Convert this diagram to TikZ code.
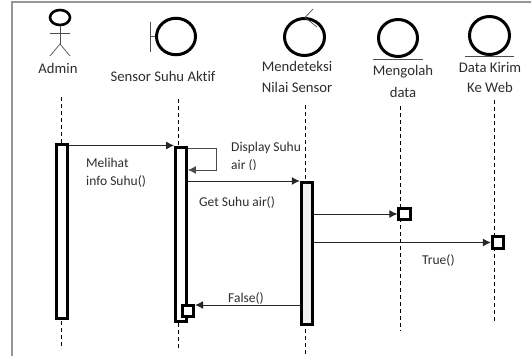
\documentclass[tikz,border=0pt]{standalone}
\usepackage{fontspec}
\setmainfont{Carlito}[Ligatures=CommonOff]
\usetikzlibrary{arrows.meta, shapes.geometric}
\definecolor{framegray}{RGB}{150,150,150}
\definecolor{textgray}{RGB}{45,45,45}
\tikzset{
    label/.style={font=\fontsize{14.7}{17}\selectfont, text=textgray, inner sep=0pt},
    labelleft/.style={label, anchor=west, font=\fontsize{13.5}{16}\selectfont},
    symbol/.style={draw=black, line width=3pt, ellipse, inner sep=0pt},
    stroke/.style={draw=black!70, line width=0.7pt},
    lifeline/.style={draw=black, line width=0.9pt, dash pattern=on 4pt off 3pt},
    activation/.style={draw=black, line width=2.8pt, fill=white, minimum width=11pt, inner sep=0pt},
    endbox/.style={draw=black, line width=2.8pt, fill=white, minimum size=11.5pt, inner sep=0pt},
    message/.style={draw=black!85, line width=1pt, -{Latex[length=8pt,width=8pt]}}
}

\begin{document}
\begin{tikzpicture}[x=1pt, y=-1pt]
    \useasboundingbox (0,0) rectangle (531,356);
    \draw[framegray, line width=1.2pt] (12,356) -- (12,2) -- (531,2);

    % actor
    \node[symbol, minimum width=20pt, minimum height=15pt, line width=2.6pt] (adminHead) at (60,17.5) {};
    \coordinate (adminHip) at (60,44);
    \coordinate (adminArmL) at (50,33);
    \coordinate (adminArmR) at (70,33);
    \coordinate (adminFootL) at (50,56);
    \coordinate (adminFootR) at (70,56);
    \draw[stroke] (adminHead) -- (adminHip);
    \draw[stroke] (adminArmL) -- (adminArmR);
    \draw[stroke] (adminFootL) -- (adminHip) -- (adminFootR);
    \node[label] (adminLabel) at (58,68) {Admin};

    % boundary
    \node[symbol, minimum width=39pt, minimum height=36.5pt] (sensor) at (176,36.5) {};
    \coordinate (sensorStem) at (150,36.5);
    \coordinate (sensorTop) at (150,22);
    \coordinate (sensorBottom) at (150,52);
    \draw[stroke] (sensorTop) -- (sensorBottom);
    \draw[stroke] (sensorStem) -- (sensor);
    \node[label] (sensorLabel) at (163,76) {Sensor Suhu Aktif};

    % control
    \node[symbol, minimum width=40pt, minimum height=37pt] (deteksi) at (304.5,37) {};
    \coordinate (deteksiTip) at (305,17.5);
    \coordinate (deteksiUp) at (313,9);
    \coordinate (deteksiDown) at (317,27);
    \draw[stroke] (deteksiUp) -- (deteksiTip) -- (deteksiDown);
    \node[label] (deteksiLabelA) at (297,66) {Mendeteksi};
    \node[label] (deteksiLabelB) at (297,87) {Nilai Sensor};

    % entity
    \node[symbol, minimum width=39pt, minimum height=37pt] (olah) at (398,38) {};
    \coordinate (olahBaseL) at (373,59);
    \coordinate (olahBaseR) at (423,59);
    \draw[stroke] (olahBaseL) -- (olahBaseR);
    \node[label] (olahLabelA) at (403,72) {Mengolah};
    \node[label] (olahLabelB) at (403,92) {data};

    \node[symbol, minimum width=40pt, minimum height=38pt] (kirim) at (489.5,35.5) {};
    \coordinate (kirimBaseL) at (465,56);
    \coordinate (kirimBaseR) at (514,56);
    \draw[stroke] (kirimBaseL) -- (kirimBaseR);
    \node[label] (kirimLabelA) at (490,67) {Data Kirim};
    \node[label] (kirimLabelB) at (490,87) {Ke Web};

    % lifelines
    \coordinate (adminLifeA) at (61,97);
    \coordinate (adminLifeB) at (61,349);
    \coordinate (sensorLifeA) at (178,99);
    \coordinate (sensorLifeB) at (178,351);
    \coordinate (deteksiLifeA) at (305.5,105);
    \coordinate (deteksiLifeB) at (305.5,355);
    \coordinate (olahLifeA) at (400,106);
    \coordinate (olahLifeB) at (400,331);
    \coordinate (kirimLifeA) at (494,100);
    \coordinate (kirimLifeB) at (494,321);
    \draw[lifeline] (adminLifeA) -- (adminLifeB);
    \draw[lifeline] (sensorLifeA) -- (sensorLifeB);
    \draw[lifeline] (deteksiLifeA) -- (deteksiLifeB);
    \draw[lifeline] (olahLifeA) -- (olahLifeB);
    \draw[lifeline] (kirimLifeA) -- (kirimLifeB);

    % activation bars
    \node[activation, minimum height=174.5pt] (adminBar) at (62,231.5) {};
    \node[activation, minimum height=174.5pt] (sensorBar) at (181,234.5) {};
    \node[activation, minimum height=142pt, fill=black!6] (deteksiBar) at (306.7,253.5) {};
    \node[endbox] (sensorBox) at (188,311) {};
    \node[endbox] (olahBox) at (404.5,214) {};
    \node[endbox] (kirimBox) at (498,242.5) {};

    % messages
    \coordinate (levelInfo) at (0,145.5);
    \coordinate (levelSelfA) at (0,148.5);
    \coordinate (levelSelfB) at (0,170);
    \coordinate (selfCornerA) at (216,148.5);
    \coordinate (selfCornerB) at (216,170);
    \coordinate (levelGet) at (0,181);
    \coordinate (levelFalse) at (0,305);
    \draw[message] (adminBar.east |- levelInfo) -- (sensorBar.west |- levelInfo);
    \draw[message, draw=black!70] (sensorBar.east |- levelSelfA) -- (selfCornerA) -- (selfCornerB) -- (sensorBar.east |- levelSelfB);
    \draw[message] (sensorBar.east |- levelGet) -- (deteksiBar.west |- levelGet);
    \draw[message] (deteksiBar.east |- olahBox) -- (olahBox.west);
    \draw[message] (deteksiBar.east |- kirimBox) -- (kirimBox.west);
    \draw[message] (deteksiBar.west |- levelFalse) -- (sensorBox.east |- levelFalse);

    % message labels
    \node[labelleft] (displayLabel) at (231,148) {Display Suhu};
    \begin{scope}
        \clip (225,158) rectangle (270,169);
        \node[labelleft] (airLabel) at (231,165.5) {air ()};
    \end{scope}
    \node[labelleft] (melihatLabel) at (86,163) {Melihat};
    \node[labelleft] (infoLabel) at (86,181) {info Suhu()};
    \node[labelleft] (getLabel) at (199,202) {Get Suhu air()};
    \node[labelleft] (falseLabel) at (228,298) {False()};
    \node[labelleft] (trueLabel) at (422,260) {True()};
\end{tikzpicture}
\end{document}
